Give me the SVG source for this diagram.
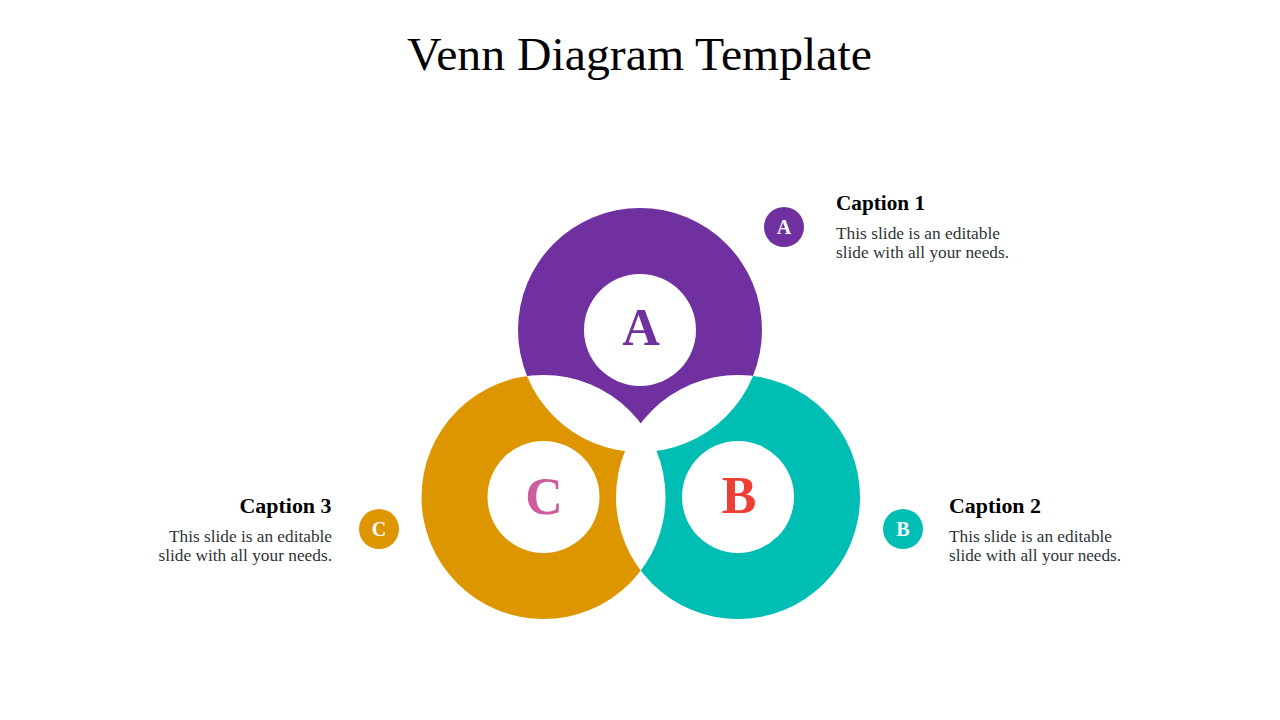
<svg xmlns="http://www.w3.org/2000/svg" width="1280" height="720" viewBox="0 0 1280 720">
  <style>
    .title { font-family: "Liberation Serif", "DejaVu Serif", serif; font-size: 46px; fill: #000; }
    .cap { font-family: "Liberation Serif", "DejaVu Serif", serif; font-size: 20px; font-weight: bold; fill: #000; }
    .body { font-family: "Liberation Serif", "DejaVu Serif", serif; font-size: 17px; fill: #2f3336; }
    .big { font-family: "Liberation Serif", "DejaVu Serif", serif; font-size: 52px; font-weight: bold; text-anchor: middle; }
    .small { font-family: "Liberation Serif", "DejaVu Serif", serif; font-size: 20px; font-weight: bold; fill: #fff; text-anchor: middle; }
    .hole { fill: #fff; }
  </style>
  <defs>
    <mask id="mA" maskUnits="userSpaceOnUse" x="0" y="0" width="1280" height="720">
      <rect width="1280" height="720" fill="#fff"/>
      <circle cx="543.5" cy="497" r="122" fill="#000"/>
      <circle cx="738" cy="497" r="122" fill="#000"/>
    </mask>
    <mask id="mB" maskUnits="userSpaceOnUse" x="0" y="0" width="1280" height="720">
      <rect width="1280" height="720" fill="#fff"/>
      <circle cx="640" cy="330" r="122" fill="#000"/>
      <circle cx="543.5" cy="497" r="122" fill="#000"/>
    </mask>
    <mask id="mC" maskUnits="userSpaceOnUse" x="0" y="0" width="1280" height="720">
      <rect width="1280" height="720" fill="#fff"/>
      <circle cx="640" cy="330" r="122" fill="#000"/>
      <circle cx="738" cy="497" r="122" fill="#000"/>
    </mask>
  </defs>
  <rect width="1280" height="720" fill="#fff"/>
  <text class="title" x="407" y="69.5" textLength="465" lengthAdjust="spacingAndGlyphs">Venn Diagram Template</text>

  <g id="node-A">
    <circle cx="640" cy="330" r="122" fill="#7030A0" mask="url(#mA)"/>
    <circle class="hole" cx="640" cy="330" r="56"/>
    <text class="big" x="641" y="345" fill="#7030A0">A</text>
  </g>
  <g id="node-B">
    <circle cx="738" cy="497" r="122" fill="#00BEB4" mask="url(#mB)"/>
    <circle class="hole" cx="738" cy="497" r="56"/>
    <text class="big" x="739" y="513" fill="#EE3F36">B</text>
  </g>
  <g id="node-C">
    <circle cx="543.5" cy="497" r="122" fill="#DE9600" mask="url(#mC)"/>
    <circle class="hole" cx="543.5" cy="497" r="56"/>
    <text class="big" x="544" y="514" fill="#CD5E9E">C</text>
  </g>

  <g id="caption-1">
    <circle cx="784" cy="227" r="20" fill="#7030A0"/>
    <text class="small" x="784" y="234">A</text>
    <text class="cap" x="836" y="210" textLength="89" lengthAdjust="spacingAndGlyphs">Caption 1</text>
    <text class="body" x="836" y="239" textLength="164" lengthAdjust="spacingAndGlyphs">This slide is an editable</text>
    <text class="body" x="836" y="258" textLength="173" lengthAdjust="spacingAndGlyphs">slide with all your needs.</text>
  </g>
  <g id="caption-2">
    <circle cx="903" cy="529" r="20" fill="#00BEB4"/>
    <text class="small" x="903" y="536">B</text>
    <text class="cap" x="949" y="513" textLength="92" lengthAdjust="spacingAndGlyphs">Caption 2</text>
    <text class="body" x="949" y="542" textLength="163" lengthAdjust="spacingAndGlyphs">This slide is an editable</text>
    <text class="body" x="949" y="561" textLength="172" lengthAdjust="spacingAndGlyphs">slide with all your needs.</text>
  </g>
  <g id="caption-3">
    <circle cx="379" cy="529" r="20" fill="#DE9600"/>
    <text class="small" x="379" y="536">C</text>
    <text class="cap" x="239.5" y="513" textLength="92" lengthAdjust="spacingAndGlyphs">Caption 3</text>
    <text class="body" x="169" y="542" textLength="163" lengthAdjust="spacingAndGlyphs">This slide is an editable</text>
    <text class="body" x="158.5" y="561" textLength="173.5" lengthAdjust="spacingAndGlyphs">slide with all your needs.</text>
  </g>
  <g id="connectors"></g>
</svg>
